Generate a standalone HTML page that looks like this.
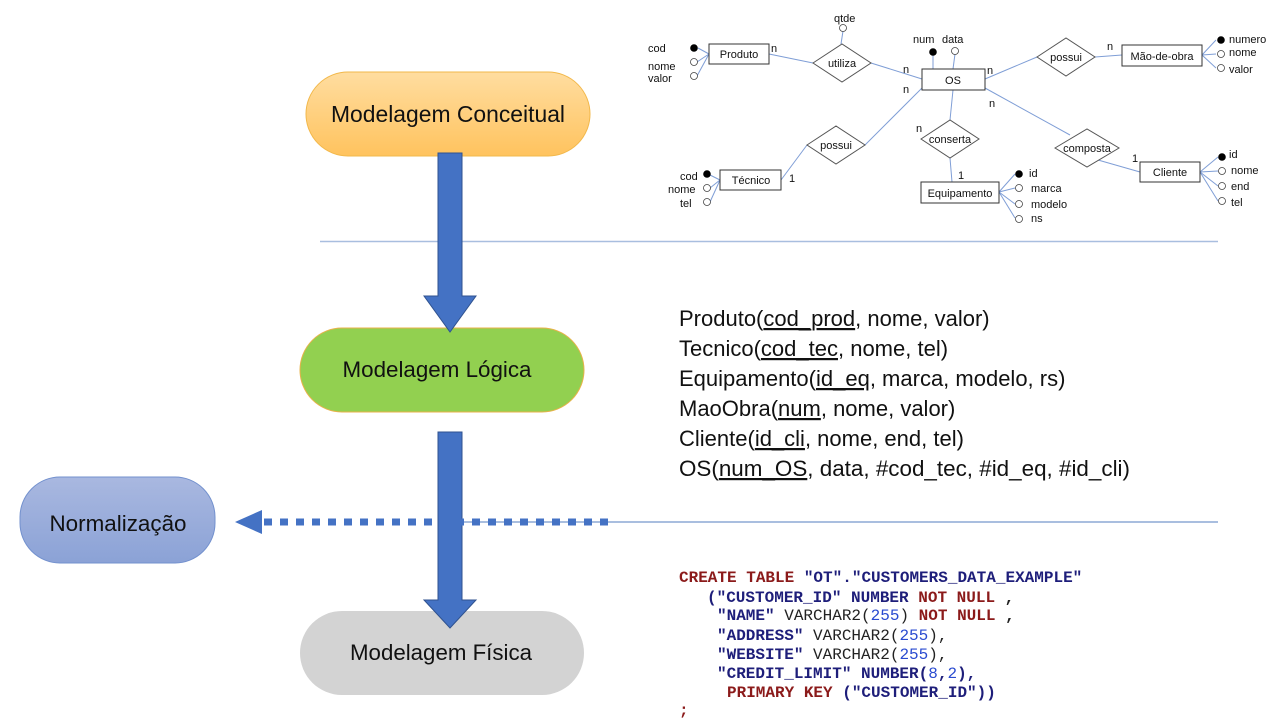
<!DOCTYPE html>
<html><head><meta charset="utf-8"><style>
html,body{margin:0;padding:0;background:#fff;}
svg{display:block}
</style></head><body>
<svg width="1285" height="722" viewBox="0 0 1285 722" xmlns="http://www.w3.org/2000/svg" font-family="Liberation Sans, sans-serif">
<defs>
<linearGradient id="go" x1="0" y1="0" x2="0" y2="1"><stop offset="0" stop-color="#FFDDA0"/><stop offset="1" stop-color="#FFC35E"/></linearGradient>
<linearGradient id="gb" x1="0" y1="0" x2="0" y2="1"><stop offset="0" stop-color="#A9B8E0"/><stop offset="1" stop-color="#8BA2D6"/></linearGradient>
</defs>
<line x1="320" y1="241.5" x2="1218" y2="241.5" stroke="#A9BEDF" stroke-width="1.5"/>
<line x1="460" y1="522" x2="1218" y2="522" stroke="#A9BEDF" stroke-width="2"/>
<rect x="306" y="72" width="284" height="84" rx="42" fill="url(#go)" stroke="#F2B84B" stroke-width="1"/>
<text x="448" y="122" font-size="23" text-anchor="middle" fill="#111" textLength="234" lengthAdjust="spacingAndGlyphs">Modelagem Conceitual</text>
<rect x="300" y="328" width="284" height="84" rx="42" fill="#92D050" stroke="#E8B24A" stroke-width="1"/>
<text x="437" y="377" font-size="22" text-anchor="middle" fill="#111" textLength="189" lengthAdjust="spacingAndGlyphs">Modelagem Lógica</text>
<rect x="300" y="611" width="284" height="84" rx="42" fill="#D3D3D3"/>
<text x="441" y="660" font-size="22" text-anchor="middle" fill="#111" textLength="182" lengthAdjust="spacingAndGlyphs">Modelagem Física</text>
<rect x="20" y="477" width="195" height="86" rx="40" fill="url(#gb)" stroke="#7391CE" stroke-width="1"/>
<text x="118" y="531" font-size="22" text-anchor="middle" fill="#111" textLength="137" lengthAdjust="spacingAndGlyphs">Normalização</text>
<polygon points="438,153 462,153 462,296 476,296 450,332 424,296 438,296" fill="#4472C4" stroke="#2F528F" stroke-width="1"/>
<polygon points="438,432 462,432 462,600 476,600 450,628 424,600 438,600" fill="#4472C4" stroke="#2F528F" stroke-width="1"/>
<line x1="264" y1="522" x2="612" y2="522" stroke="#4472C4" stroke-width="7" stroke-dasharray="8 8"/>
<polygon points="235,522 262,510 262,534" fill="#4472C4"/>
<g font-size="22" fill="#111">
<text x="679" y="326">Produto(<tspan text-decoration="underline">cod_prod</tspan>, nome, valor)</text>
<text x="679" y="356">Tecnico(<tspan text-decoration="underline">cod_tec</tspan>, nome, tel)</text>
<text x="679" y="386">Equipamento(<tspan text-decoration="underline">id_eq</tspan>, marca, modelo, rs)</text>
<text x="679" y="416">MaoObra(<tspan text-decoration="underline">num</tspan>, nome, valor)</text>
<text x="679" y="446">Cliente(<tspan text-decoration="underline">id_cli</tspan>, nome, end, tel)</text>
<text x="679" y="476" textLength="451" lengthAdjust="spacingAndGlyphs">OS(<tspan text-decoration="underline">num_OS</tspan>, data, #cod_tec, #id_eq, #id_cli)</text>
</g>
<g font-family="Liberation Mono, monospace" font-size="16" font-weight="bold" fill="#1E1E7A">
<text x="679" y="582" fill="#8B1A1A">CREATE TABLE <tspan fill="#1E1E7A">"OT"."CUSTOMERS_DATA_EXAMPLE"</tspan></text>
<text x="707" y="602">("CUSTOMER_ID" NUMBER  <tspan fill="#8B1A1A">NOT NULL</tspan> <tspan fill="#222">,</tspan></text>
<text x="717" y="620">"NAME" <tspan fill="#222" font-weight="normal">VARCHAR2(</tspan><tspan fill="#2A4BD0" font-weight="normal">255</tspan><tspan fill="#222" font-weight="normal">)</tspan> <tspan fill="#8B1A1A">NOT NULL</tspan> <tspan fill="#222">,</tspan></text>
<text x="717" y="640">"ADDRESS" <tspan fill="#222" font-weight="normal">VARCHAR2(</tspan><tspan fill="#2A4BD0" font-weight="normal">255</tspan><tspan fill="#222" font-weight="normal">),</tspan></text>
<text x="717" y="659">"WEBSITE" <tspan fill="#222" font-weight="normal">VARCHAR2(</tspan><tspan fill="#2A4BD0" font-weight="normal">255</tspan><tspan fill="#222" font-weight="normal">),</tspan></text>
<text x="717" y="678">"CREDIT_LIMIT" NUMBER(<tspan fill="#2A4BD0" font-weight="normal">8</tspan>,<tspan fill="#2A4BD0" font-weight="normal">2</tspan>),</text>
<text x="727" y="697"><tspan fill="#8B1A1A">PRIMARY KEY</tspan> ("CUSTOMER_ID"))</text>
<text x="679" y="715" fill="#8B1A1A">;</text>
</g>
<g stroke="#7F9ED6" stroke-width="1" fill="none">
<line x1="769" y1="54" x2="813" y2="63"/>
<line x1="871" y1="63" x2="922" y2="79"/>
<line x1="985" y1="79" x2="1037" y2="57"/>
<line x1="1095" y1="57" x2="1122" y2="55"/>
<line x1="922" y1="88" x2="865" y2="145"/>
<line x1="807" y1="145" x2="781" y2="180"/>
<line x1="953" y1="90" x2="950" y2="120"/>
<line x1="950" y1="158" x2="952" y2="182"/>
<line x1="985" y1="88" x2="1070" y2="135"/>
<line x1="1098" y1="160" x2="1140" y2="172"/>
<line x1="841" y1="44" x2="843" y2="31"/>
<line x1="933" y1="69" x2="933" y2="55"/>
<line x1="953" y1="69" x2="955" y2="54"/>
<line x1="709" y1="54" x2="698" y2="48"/><line x1="709" y1="54" x2="697" y2="62"/><line x1="709" y1="54" x2="697" y2="76"/>
<line x1="720" y1="180" x2="710" y2="175"/><line x1="720" y1="180" x2="710" y2="188"/><line x1="720" y1="180" x2="710" y2="202"/>
<line x1="999" y1="192" x2="1015" y2="174"/><line x1="999" y1="192" x2="1015" y2="188"/><line x1="999" y1="192" x2="1015" y2="204"/><line x1="999" y1="192" x2="1015" y2="218"/>
<line x1="1202" y1="55" x2="1216" y2="40"/><line x1="1202" y1="55" x2="1216" y2="54"/><line x1="1202" y1="55" x2="1216" y2="68"/>
<line x1="1200" y1="172" x2="1218" y2="157"/><line x1="1200" y1="172" x2="1218" y2="171"/><line x1="1200" y1="172" x2="1218" y2="186"/><line x1="1200" y1="172" x2="1218" y2="201"/>
</g>
<g stroke="#333" stroke-width="1" fill="#fff">
<rect x="709" y="44" width="60" height="20"/>
<rect x="922" y="69" width="63" height="21"/>
<rect x="1122" y="45" width="80" height="21"/>
<rect x="720" y="170" width="61" height="20"/>
<rect x="921" y="182" width="78" height="21"/>
<rect x="1140" y="162" width="60" height="20"/>
</g>
<g stroke="#555" stroke-width="1" fill="#fff">
<polygon points="813,63 842,44 871,63 842,82"/>
<polygon points="1037,57 1066,38 1095,57 1066,76"/>
<polygon points="807,145 836,126 865,145 836,164"/>
<polygon points="921,139 950,120 979,139 950,158"/>
<polygon points="1055,148 1087,129 1119,148 1087,167"/>
</g>
<g font-size="11" fill="#111" text-anchor="middle">
<text x="739" y="58">Produto</text><text x="953" y="84">OS</text><text x="1162" y="60">Mão-de-obra</text>
<text x="751" y="184">Técnico</text><text x="960" y="197">Equipamento</text><text x="1170" y="176">Cliente</text>
<text x="842" y="67">utiliza</text><text x="1066" y="61">possui</text><text x="836" y="149">possui</text>
<text x="950" y="143">conserta</text><text x="1087" y="152">composta</text>
</g>
<g font-size="11" fill="#111">
<text x="771" y="52">n</text><text x="903" y="73">n</text><text x="903" y="93">n</text><text x="987" y="74">n</text>
<text x="1107" y="50">n</text><text x="989" y="107">n</text><text x="916" y="132">n</text><text x="958" y="179">1</text>
<text x="789" y="182">1</text><text x="1132" y="162">1</text>
<text x="834" y="22">qtde</text><text x="913" y="43">num</text><text x="942" y="43">data</text>
<text x="648" y="52">cod</text><text x="648" y="70">nome</text><text x="648" y="82">valor</text>
<text x="680" y="180">cod</text><text x="668" y="193">nome</text><text x="680" y="207">tel</text>
<text x="1029" y="177">id</text><text x="1031" y="192">marca</text><text x="1031" y="208">modelo</text><text x="1031" y="222">ns</text>
<text x="1229" y="43">numero</text><text x="1229" y="56">nome</text><text x="1229" y="73">valor</text>
<text x="1229" y="158">id</text><text x="1231" y="174">nome</text><text x="1231" y="190">end</text><text x="1231" y="206">tel</text>
</g>
<g stroke="#444" stroke-width="0.8" fill="#fff">
<circle cx="843" cy="28" r="3.5"/><circle cx="955" cy="51" r="3.5"/>
<circle cx="694" cy="62" r="3.5"/><circle cx="694" cy="76" r="3.5"/>
<circle cx="707" cy="188" r="3.5"/><circle cx="707" cy="202" r="3.5"/>
<circle cx="1019" cy="188" r="3.5"/><circle cx="1019" cy="204" r="3.5"/><circle cx="1019" cy="219" r="3.5"/>
<circle cx="1221" cy="54" r="3.5"/><circle cx="1221" cy="68" r="3.5"/>
<circle cx="1222" cy="171" r="3.5"/><circle cx="1222" cy="186" r="3.5"/><circle cx="1222" cy="201" r="3.5"/>
</g>
<g fill="#000">
<circle cx="933" cy="52" r="3.8"/><circle cx="694" cy="48" r="3.8"/><circle cx="707" cy="174" r="3.8"/>
<circle cx="1019" cy="174" r="3.8"/><circle cx="1221" cy="40" r="3.8"/><circle cx="1222" cy="157" r="3.8"/>
</g>
<rect x="1000" y="223" width="100" height="10" fill="#fff"/>
</svg>
</body></html>
